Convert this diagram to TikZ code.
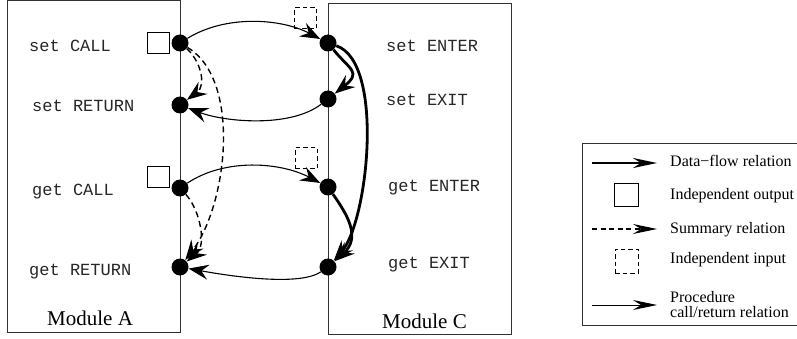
\documentclass[tikz,border=0pt]{standalone}
\usepackage{fontspec}
\setmainfont{Liberation Serif}
\newfontfamily\codefont{Liberation Mono}
\usetikzlibrary{arrows.meta}

\tikzset{
  dot/.style={circle, fill=black, inner sep=0pt, minimum size=17pt},
  modbox/.style={draw=black!80, line width=1pt},
  outbox/.style={draw=black, line width=1pt, minimum width=22pt, minimum height=21pt, inner sep=0pt},
  inbox/.style={draw=black, line width=1pt, dash pattern=on 4.5pt off 3pt, minimum width=22pt, minimum height=21pt, inner sep=0pt},
  codelabel/.style={anchor=base west, inner sep=0pt, text=black!85, font=\codefont\fontsize{17}{20}\selectfont},
  modlabel/.style={anchor=base west, inner sep=0pt, font=\fontsize{21}{24}\selectfont},
  keylabel/.style={anchor=base west, inner sep=0pt, font=\fontsize{16}{18}\selectfont},
  headarrow/.style={-{Stealth[length=20pt, width=15pt, inset=7pt]}},
  keyhead/.style={-{Stealth[length=24pt, width=10pt, inset=8pt]}},
  callrel/.style={headarrow, line width=1.1pt},
  sumrel/.style={headarrow, line width=1.4pt, dash pattern=on 6pt off 4pt},
  flowrel/.style={headarrow, line width=2.8pt},
}

\begin{document}
\begin{tikzpicture}[x=1pt, y=-1pt]
\useasboundingbox (0,0) rectangle (797,339);

% module frames
\draw[modbox] (7,1) rectangle (180,332);
\draw[modbox] (328,4) rectangle (511,334);

% module A labels
\node[codelabel] (lsc) at (29,52) {set CALL};
\node[codelabel] (lsr) at (32,112) {set RETURN};
\node[codelabel] (lgc) at (32,195) {get CALL};
\node[codelabel] (lgr) at (29,275) {get RETURN};
\node[modlabel] (lma) at (47,325) {Module A};

% module C labels
\node[codelabel] (lse) at (386,52) {set ENTER};
\node[codelabel] (lsx) at (386,106) {set EXIT};
\node[codelabel] (lge) at (388,192) {get ENTER};
\node[codelabel] (lgx) at (388,268) {get EXIT};
\node[modlabel] (lmc) at (382,328) {Module C};

% independent output / input markers
\node[outbox] (osc) at (158,43.5) {};
\node[outbox] (ogc) at (158,177.5) {};
\node[inbox] (ise) at (305.5,18.5) {};
\node[inbox] (ige) at (306,158.5) {};

% parameter vertices
\node[dot] (sC) at (180,43) {};
\node[dot] (sR) at (180,105) {};
\node[dot] (gC) at (180,188) {};
\node[dot] (gR) at (180,267) {};
\node[dot] (sE) at (328,43) {};
\node[dot] (sX) at (328,99) {};
\node[dot] (gE) at (328,187) {};
\node[dot] (gX) at (328,267) {};

% procedure call / return edges
\draw[callrel] (sC) .. controls (225,15) and (280,18) .. (sE);
\draw[callrel] (sX) .. controls (290,128) and (225,122) .. (sR);
\draw[callrel] (gC) .. controls (225,158) and (280,162) .. (gE);
\draw[callrel] (gX) .. controls (300,286) and (235,277) .. (gR);

% summary edges
\draw[sumrel] (sC) .. controls (200,60) and (207,85) .. (sR);
\draw[sumrel] (sC) .. controls (242,80) and (227,205) .. (gR);
\draw[sumrel] (gC) .. controls (200,210) and (207,245) .. (gR);

% data-flow edges
\draw[flowrel] (sE) .. controls (350,70) and (362,72) .. (sX);
\draw[flowrel] (sE) .. controls (385,62) and (368,222) .. (gX);
\draw[flowrel] (gE) .. controls (346,213) and (362,237) .. (gX);

% key
\draw[modbox] (582,144) rectangle (805,325);
\coordinate (k1a) at (592,163);
\coordinate (k1b) at (657,163);
\draw[keyhead, line width=2.8pt] (k1a) -- (k1b);
\node[keylabel] (t1) at (670,167) {Data−flow relation};
\node[outbox, minimum width=24pt, minimum height=22pt] (kout) at (626,195) {};
\node[keylabel] (t2) at (670,200) {Independent output};
\coordinate (k3a) at (592,229);
\coordinate (k3b) at (657,229);
\draw[keyhead, line width=1.2pt, dash pattern=on 5pt off 3.5pt] (k3a) -- (k3b);
\node[keylabel] (t3) at (670,233) {Summary relation};
\node[inbox, minimum width=23pt, minimum height=24pt] (kin) at (626.5,261) {};
\node[keylabel] (t4) at (670,263) {Independent input};
\coordinate (k5a) at (592,305);
\coordinate (k5b) at (657,305);
\draw[keyhead, line width=1pt] (k5a) -- (k5b);
\node[keylabel] (t5) at (670,302) {Procedure};
\node[keylabel] (t6) at (670,317) {call/return relation};
\end{tikzpicture}
\end{document}
